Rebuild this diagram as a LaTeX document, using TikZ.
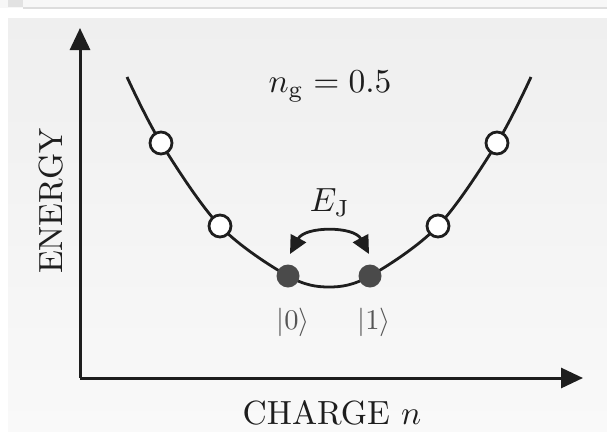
\documentclass[tikz,border=0pt]{standalone}
\usepackage{fix-cm}
\usetikzlibrary{arrows.meta}
\definecolor{ink}{HTML}{1E1E1E}
\definecolor{dotgray}{HTML}{4A4A4A}
\definecolor{labgray}{HTML}{555555}
\definecolor{pantop}{HTML}{EFEFEF}
\definecolor{panbot}{HTML}{F9F9F9}
\definecolor{stripcol}{HTML}{F7F7F7}
\definecolor{tabcol}{HTML}{E2E2E2}
\definecolor{rulecol}{HTML}{DDDDDD}
\begin{document}
\begin{tikzpicture}[x=1pt,y=-1pt,
  axis/.style={draw=ink,line width=3pt,-{Triangle[width=20pt,length=22pt]}},
  curve/.style={draw=ink,line width=2.8pt},
  opendot/.style={circle,draw=ink,fill=white,line width=2.8pt,minimum size=22pt,inner sep=0pt},
  filldot/.style={circle,fill=dotgray,minimum size=23pt,inner sep=0pt},
  big/.style={text=ink,scale=3.35},
  ket/.style={text=labgray,scale=2.85},
  swap/.style={draw=ink,line width=2.8pt,{Triangle[width=17pt,length=18pt]}-{Triangle[width=17pt,length=18pt]}}]
\useasboundingbox (0,0) rectangle (607,431);
% page furniture
\fill[white] (0,0) rectangle (607,431);
\fill[stripcol] (0,0) rectangle (607,8);
\fill[tabcol] (8,0) rectangle (23,6.5);
\fill[rulecol] (23,6.5) rectangle (607,8.5);
\shade[top color=pantop,bottom color=panbot] (8,18) rectangle (607,431);
% axes
\coordinate (O) at (80,378);
\coordinate (ytop) at (80,28);
\coordinate (xend) at (583,378);
\draw[axis] (O) -- (ytop);
\draw[axis] (O) -- (xend);
\node[big,rotate=90] (ylab) at (51,201) {ENERGY};
\node[big] (xlab) at (332,413) {CHARGE $n$};
% curve
\draw[curve] plot[smooth,tension=0.55] coordinates {(127,77) (161,143) (220,226) (288,276) (329,287) (370,276) (438,226) (497,143) (531,77)};
\node[opendot] (m3) at (161,143) {};
\node[opendot] (m2) at (220,226) {};
\node[filldot] (k0) at (288,276) {};
\node[filldot] (k1) at (370,276) {};
\node[opendot] (p2) at (438,226) {};
\node[opendot] (p3) at (497,143) {};
% labels
\node[big] (ng) at (330,86) {$n_{\mathrm{g}} = 0.5$};
\node[big] (ej) at (330,203) {$E_{\mathrm{J}}$};
\node[ket] (l0) at (293,322) {$|0\rangle$};
\node[ket] (l1) at (374,322) {$|1\rangle$};
% tunnelling arrow
\coordinate (a0) at (290,254);
\coordinate (a1) at (369,254);
\draw[swap] (a0) .. controls (305,226) and (354,226) .. (a1);
\end{tikzpicture}
\end{document}
